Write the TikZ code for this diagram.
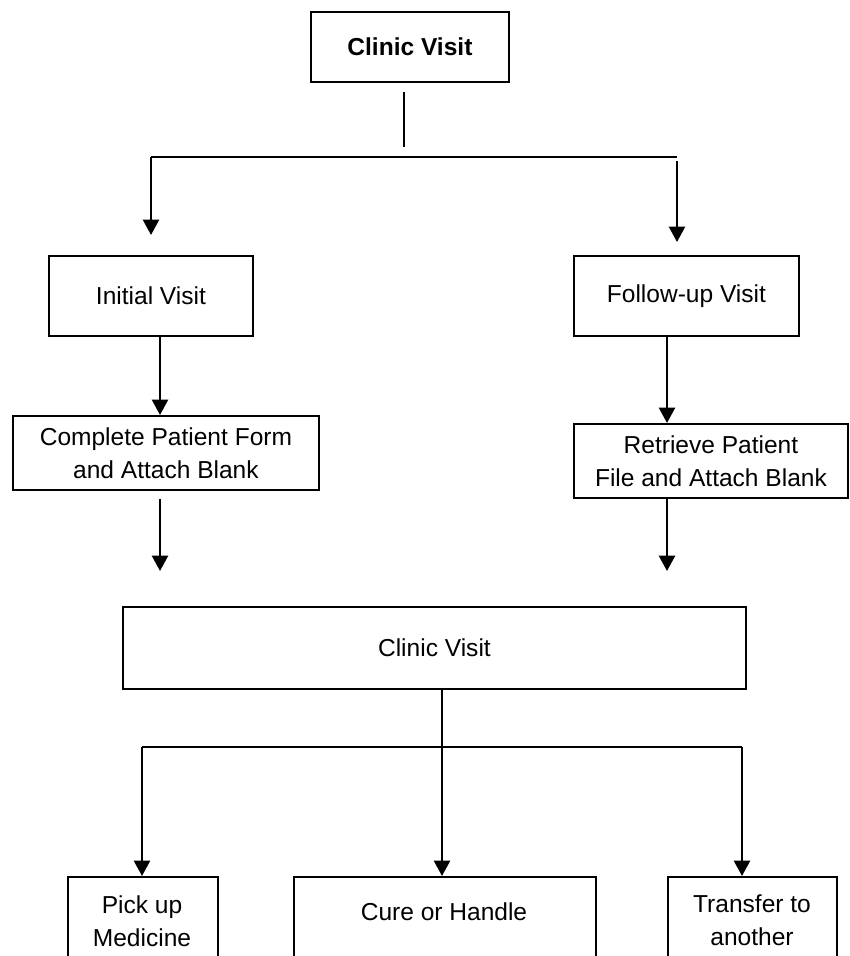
\documentclass[tikz,border=0pt]{standalone}
\usepackage{fontspec}
\setmainfont{Liberation Sans}
\usetikzlibrary{arrows.meta,calc}
\begin{document}
\begin{tikzpicture}[x=0.75pt,y=-0.75pt,
  box/.style={draw,line width=1.4pt,inner sep=0pt,anchor=north west,align=center,
    font=\fontsize{18.4}{24.5}\selectfont},
  txt/.style={inner sep=0pt,align=center,font=\fontsize{18.4}{24.5}\selectfont},
  arr/.style={line width=1.8pt,-{Triangle[length=11.5pt,width=12pt]}},
  ln/.style={line width=1.4pt}]
\useasboundingbox (0,0) rectangle (849,956);
\clip (0,0) rectangle (849,956);
% boxes
\node[box,minimum width=148.5pt,minimum height=52.5pt,font=\fontsize{18.4}{24.5}\selectfont\bfseries] (top) at (310,11) {Clinic Visit};
\node[box,minimum width=153pt,minimum height=60pt] (init) at (48,255) {Initial Visit};
\node[box,minimum width=168.75pt,minimum height=60pt] (foll) at (573,255) {Follow-up Visit};
\node[box,minimum width=229.5pt,minimum height=55.5pt] (comp) at (12,415) {Complete Patient Form\\and Attach Blank};
\node[box,minimum width=205.5pt,minimum height=55.5pt] (retr) at (573,423) {Retrieve Patient\\File and Attach Blank};
\node[box,minimum width=467.25pt,minimum height=61.5pt] (cv) at (122,606) {Clinic Visit};
\node[box,minimum width=112.5pt,minimum height=90pt] (pick) at (67,876) {};
\node[box,minimum width=226.5pt,minimum height=90pt] (cure) at (293,876) {};
\node[box,minimum width=126.75pt,minimum height=90pt] (trans) at (667,876) {};
\node[txt] (picktxt) at (142,921) {Pick up\\Medicine};
\node[txt] (curetxt) at (444,912) {Cure or Handle};
\node[txt] (transtxt) at (752,920) {Transfer to\\another};
% coordinates
\coordinate (t1) at (404,92);
\coordinate (t2) at (404,147);
\coordinate (hl) at (151,157);
\coordinate (hr) at (677,157);
\coordinate (hr2) at (677,161);
\coordinate (xl) at (160,0);
\coordinate (xr) at (667,0);
\coordinate (el) at (160,571);
\coordinate (er) at (667,571);
\coordinate (m1) at (442,747);
\coordinate (bl) at (142,747);
\coordinate (br) at (742,747);
% connectors
\draw[ln] (t1) -- (t2);
\draw[ln] (hl) -- (hr);
\draw[arr] (hl) -- ($(hl |- init.north)+(0,-20)$);
\draw[arr] (hr2) -- ($(hr2 |- foll.north)+(0,-13)$);
\draw[arr] (xl |- init.south) -- (xl |- comp.north);
\draw[arr] (xr |- foll.south) -- (xr |- retr.north);
\draw[arr] ($(xl |- comp.south)+(0,8)$) -- (el);
\draw[arr] (xr |- retr.south) -- (er);
\draw[ln] (m1 |- cv.south) -- (m1);
\draw[ln] (bl) -- (br);
\draw[arr] (bl) -- (bl |- pick.north);
\draw[arr] (m1) -- (m1 |- cure.north);
\draw[arr] (br) -- (br |- trans.north);
\end{tikzpicture}
\end{document}
